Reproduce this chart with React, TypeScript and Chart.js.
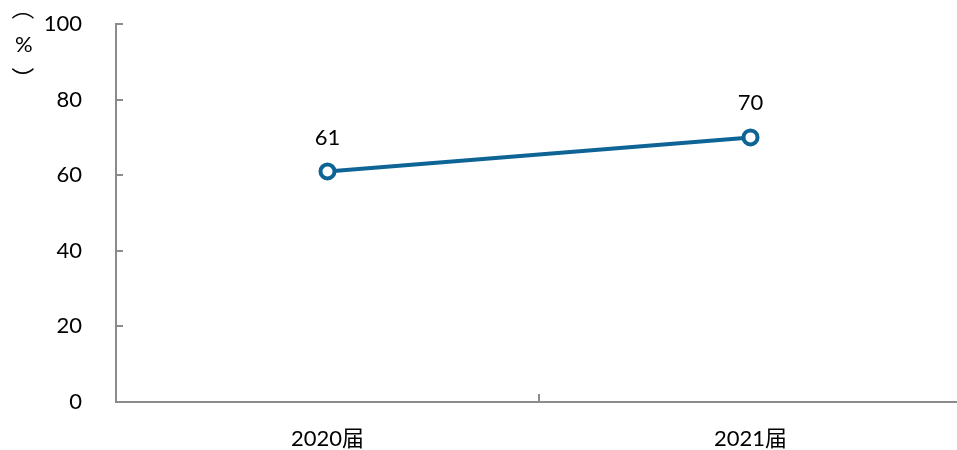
import React, { useEffect, useRef } from "react";
import { Chart, registerables } from "chart.js";

Chart.register(...registerables);

const categories = ["2020届", "2021届"];
const values = [61, 70];
const yTicks = [0, 20, 40, 60, 80, 100];
const yTitleParts = ["（", "%", "）"];

const LINE_COLOR = "#0f6496";
const AXIS_COLOR = "#8c8c8c";
const FONT = "Lato, 'Noto Sans CJK SC', sans-serif";
const CJK = "'Noto Sans CJK SC', sans-serif";
const AREA_TOP = 24;

function drawInk(ctx: any, text: string, cx: number, cy: number) {
  ctx.textAlign = "left";
  ctx.textBaseline = "alphabetic";
  const m = ctx.measureText(text);
  const x = cx + (m.actualBoundingBoxLeft - m.actualBoundingBoxRight) / 2;
  const y = cy + (m.actualBoundingBoxAscent - m.actualBoundingBoxDescent) / 2;
  ctx.fillText(text, x, y);
}

function drawRotated(ctx: any, text: string, cx: number, cy: number) {
  ctx.save();
  ctx.translate(cx, cy);
  ctx.rotate(Math.PI / 2);
  drawInk(ctx, text, 0, 0);
  ctx.restore();
}

const extras = {
  id: "extras",
  afterLayout(chart: any) {
    const area = chart.chartArea;
    const y = chart.scales.y;
    area.top = AREA_TOP;
    area.height = area.bottom - area.top;
    y.top = AREA_TOP;
    y.height = y.bottom - y.top;
    y.configure();
  },
  afterDraw(chart: any) {
    const ctx = chart.ctx;
    const x = chart.scales.x;
    const y = chart.scales.y;
    const area = chart.chartArea;
    ctx.save();
    ctx.strokeStyle = AXIS_COLOR;
    ctx.lineWidth = 2;
    yTicks.forEach((v) => {
      if (v === 0) return;
      const py = Math.round(y.getPixelForValue(v));
      ctx.beginPath();
      ctx.moveTo(area.left, py);
      ctx.lineTo(area.left + 7, py);
      ctx.stroke();
    });
    for (let i = 0; i < categories.length - 1; i++) {
      const px = Math.round((x.getPixelForValue(i) + x.getPixelForValue(i + 1)) / 2);
      ctx.beginPath();
      ctx.moveTo(px, area.bottom);
      ctx.lineTo(px, area.bottom - 8);
      ctx.stroke();
    }
    ctx.fillStyle = "#000";
    ctx.font = `22px ${FONT}`;
    ctx.textAlign = "center";
    ctx.textBaseline = "middle";
    values.forEach((v, i) => {
      ctx.fillText(String(v), x.getPixelForValue(i), y.getPixelForValue(v) - 34);
    });
    // y title, vertical
    ctx.font = `22px ${FONT}`;
    drawInk(ctx, yTitleParts[1], 23.5, 44);
    ctx.font = `100px ${CJK}`;
    const m = ctx.measureText(yTitleParts[0]);
    const h = m.actualBoundingBoxAscent + m.actualBoundingBoxDescent;
    const size = h > 0 ? (22 / h) * 100 : 24;
    ctx.font = `${size}px ${CJK}`;
    drawRotated(ctx, yTitleParts[0], 23, 15.5);
    drawRotated(ctx, yTitleParts[2], 23, 71);
    ctx.restore();
  },
};

export default function App() {
  const ref = useRef<HTMLCanvasElement>(null);
  useEffect(() => {
    document.body.style.margin = "0";
    const chart = new Chart(ref.current!, {
      type: "line",
      data: {
        labels: categories,
        datasets: [
          {
            data: values,
            borderColor: LINE_COLOR,
            borderWidth: 4,
            pointRadius: 7,
            pointBorderWidth: 4,
            pointBackgroundColor: "#fff",
            pointBorderColor: LINE_COLOR,
            tension: 0,
          },
        ],
      },
      options: {
        responsive: false,
        animation: false,
        layout: { padding: { top: 0, right: 1, left: 0, bottom: 0 } },
        plugins: { legend: { display: false }, tooltip: { enabled: false } },
        scales: {
          x: {
            offset: true,
            grid: { display: false, offset: true },
            border: { display: true, color: AXIS_COLOR, width: 2 },
            ticks: { color: "#000", font: { family: FONT, size: 22 }, padding: 16, maxRotation: 0 },
            afterFit(s: any) {
              s.height = 48;
            },
          },
          y: {
            min: 0,
            max: 100,
            afterBuildTicks(s: any) {
              s.ticks = yTicks.map((v) => ({ value: v }));
            },
            grid: { display: false },
            border: { display: true, color: AXIS_COLOR, width: 2 },
            ticks: { color: "#000", font: { family: FONT, size: 22 }, padding: 26 },
            afterFit(s: any) {
              s.width = 116;
            },
          },
        },
      },
      plugins: [extras],
    });
    return () => chart.destroy();
  }, []);
  return (
    <div style={{ width: 957, height: 450, overflow: "hidden", background: "#fff" }}>
      <canvas ref={ref} width={973} height={450} style={{ display: "block" }} />
    </div>
  );
}
